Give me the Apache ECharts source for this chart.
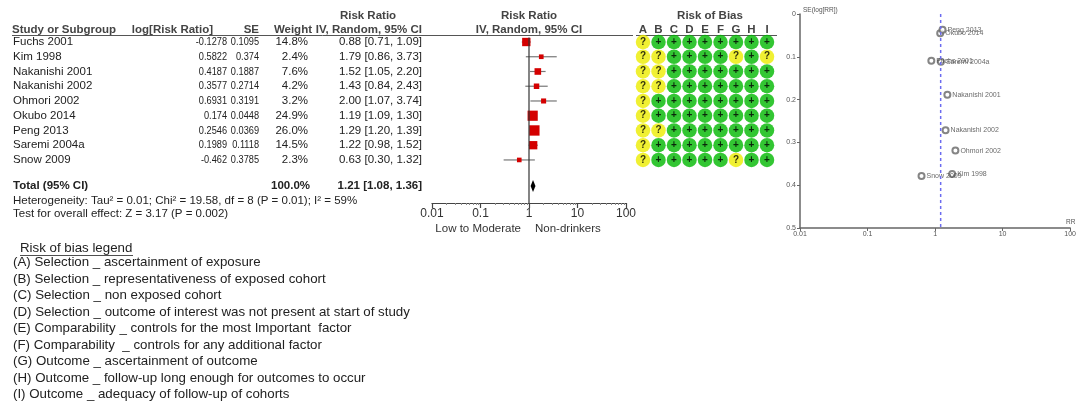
<!DOCTYPE html>
<html><head><meta charset="utf-8">
<script src="https://cdn.jsdelivr.net/npm/echarts@6/dist/echarts.min.js"></script>
<style>html,body{margin:0;padding:0;background:#fff}#c{width:1079px;height:403px}</style>
</head><body><div id="c"></div>
<script>
// ---------- DATA ----------
const studies = ["Fuchs 2001","Kim 1998","Nakanishi 2001","Nakanishi 2002","Ohmori 2002","Okubo 2014","Peng 2013","Saremi 2004a","Snow 2009"];
const logRR = [-0.1278, 0.5822, 0.4187, 0.3577, 0.6931, 0.174, 0.2546, 0.1989, -0.462];
const se = [0.1095, 0.374, 0.1887, 0.2714, 0.3191, 0.0448, 0.0369, 0.1118, 0.3785];
const weight = [14.8, 2.4, 7.6, 4.2, 3.2, 24.9, 26.0, 14.5, 2.3];
const rr = [0.88, 1.79, 1.52, 1.43, 2.00, 1.19, 1.29, 1.22, 0.63];
const ciLow = [0.71, 0.86, 1.05, 0.84, 1.07, 1.09, 1.20, 0.98, 0.30];
const ciHigh = [1.09, 3.73, 2.20, 2.43, 3.74, 1.30, 1.39, 1.52, 1.32];
const totalRR = 1.21, totalLow = 1.08, totalHigh = 1.36, totalWeight = 100.0;
const heterogeneityText = "Heterogeneity: Tau\u00b2 = 0.01; Chi\u00b2 = 19.58, df = 8 (P = 0.01); I\u00b2 = 59%";
const overallText = "Test for overall effect: Z = 3.17 (P = 0.002)";
const biasDomains = ["A","B","C","D","E","F","G","H","I"];
const biasRows = ["?++++++++","??++++?+?","??+++++++","??+++++++","?++++++++","?++++++++","??+++++++","?++++++++","?+++++?++"];
const forestTicks = [0.01, 0.1, 1, 10, 100];
const favourLeft = "Low to Moderate", favourRight = "Non-drinkers";
const funnelXTicks = [0.01, 0.1, 1, 10, 100];
const funnelYTicks = [0, 0.1, 0.2, 0.3, 0.4, 0.5];
const legendTitle = "Risk of bias legend";
const legendLines = [
  "(A) Selection _ ascertainment of exposure",
  "(B) Selection _ representativeness of exposed cohort",
  "(C) Selection _ non exposed cohort",
  "(D) Selection _ outcome of interest was not present at start of study",
  "(E) Comparability _ controls for the most Important  factor",
  "(F) Comparability  _ controls for any additional factor",
  "(G) Outcome _ ascertainment of outcome",
  "(H) Outcome _ follow-up long enough for outcomes to occur",
  "(I) Outcome _ adequacy of follow-up of cohorts"
];

// ---------- LAYOUT ----------
const FONT = '"Liberation Sans", Arial, sans-serif';
const TOTAL_ROW = 9.76;
const Y_MIN = -0.95, Y_MAX = 10.92, GRID_TOP = 28, GRID_H = 175;
function rowY(r){ return GRID_TOP + (r - Y_MIN) / (Y_MAX - Y_MIN) * GRID_H; }
const TXT = '#222';

const graphics = [];
function txt(x, y, s, opt){
  opt = opt || {};
  graphics.push({type:'text', x:x, y:y, scaleX:opt.sx||1, silent:true, style:{
    text:s, fill:opt.fill||TXT, font:(opt.bold?'bold ':'')+(opt.size||11.5)+'px '+FONT,
    textAlign:opt.align||'left', textVerticalAlign:'middle'}});
}
function hline(x1, x2, y, color, w){
  graphics.push({type:'line', silent:true, shape:{x1:x1,y1:y,x2:x2,y2:y}, style:{stroke:color||'#444', lineWidth:w||1}});
}
// Table header
const HC = '#444';
txt(368, 16, 'Risk Ratio', {bold:true, fill:HC, align:'center'});
txt(12, 30, 'Study or Subgroup', {bold:true, fill:HC});
txt(213, 30, 'log[Risk Ratio]', {bold:true, fill:HC, align:'right'});
txt(259, 30, 'SE', {bold:true, fill:HC, align:'right'});
txt(312, 30, 'Weight', {bold:true, fill:HC, align:'right'});
txt(422, 30, 'IV, Random, 95% CI', {bold:true, fill:HC, align:'right'});
txt(529, 16, 'Risk Ratio', {bold:true, fill:HC, align:'center'});
txt(529, 30, 'IV, Random, 95% CI', {bold:true, fill:HC, align:'center'});
txt(710, 16, 'Risk of Bias', {bold:true, fill:HC, align:'center'});
hline(12, 633, 35.5, '#555', 1);
hline(636, 777, 35.5, '#555', 1);
// Table rows
studies.forEach(function(s, i){
  const y = rowY(i);
  txt(13, y, s);
  txt(227, y, String(logRR[i]), {align:'right', sx:0.8});
  txt(259, y, String(se[i]), {align:'right', sx:0.8});
  txt(308, y, weight[i].toFixed(1) + '%', {align:'right'});
  txt(422, y, rr[i].toFixed(2) + ' [' + ciLow[i].toFixed(2) + ', ' + ciHigh[i].toFixed(2) + ']', {align:'right'});
});
const ty = rowY(TOTAL_ROW);
txt(13, ty, 'Total (95% CI)', {bold:true});
txt(310, ty, totalWeight.toFixed(1) + '%', {bold:true, align:'right'});
txt(422, ty, totalRR.toFixed(2) + ' [' + totalLow.toFixed(2) + ', ' + totalHigh.toFixed(2) + ']', {bold:true, align:'right'});
txt(13, ty + 14.5, heterogeneityText);
txt(13, ty + 28, overallText);
txt(521, 229, favourLeft, {align:'right', fill:'#333'});
txt(535, 229, favourRight, {fill:'#333'});
// RoB domain letters
biasDomains.forEach(function(d, j){
  txt(643 + j * 15.5, 30, d, {bold:true, fill:HC, align:'center'});
});
// Legend
txt(20, 248.5, legendTitle, {size:13.3});
hline(20, 133, 255.5, '#222', 0.8);
legendLines.forEach(function(s, i){ txt(13, 262.5 + i * 16.5, s, {size:13.3}); });
// Funnel axis names
txt(803, 10, 'SE(log[RR])', {size:6.5, fill:'#555'});
txt(1066, 222, 'RR', {size:6.5, fill:'#555'});

// ---------- SERIES DATA ----------
const ciData = studies.map(function(s, i){ return [ciLow[i], ciHigh[i], i]; });
const pointData = studies.map(function(s, i){ return {value:[rr[i], i], symbolSize: 2.2 + Math.sqrt(weight[i]) * 1.6}; });
const biasData = [];
biasRows.forEach(function(row, i){
  row.split('').forEach(function(c, j){ biasData.push({value:[j, i], mark:c}); });
});
const funnelData = studies.map(function(s, i){ return {value:[rr[i], se[i]], name:s}; });

const chart = echarts.init(document.getElementById('c'), null, {renderer:'canvas'});
chart.setOption({
  animation:false,
  textStyle:{fontFamily:FONT},
  grid:[
    {left:432, width:194, top:GRID_TOP, height:GRID_H},
    {left:635.25, width:139.5, top:GRID_TOP, height:GRID_H},
    {left:800, width:277, top:14, height:214}
  ],
  xAxis:[
    {gridIndex:0, type:'log', logBase:10, min:0.01, max:100, position:'bottom',
     axisLine:{onZero:false, lineStyle:{color:'#444', width:1.2}},
     axisTick:{show:true, length:5, lineStyle:{color:'#444', width:1.2}},
     minorTick:{show:true, splitNumber:9, length:2, lineStyle:{color:'#888'}},
     axisLabel:{fontSize:12, color:'#333', margin:5, fontFamily:FONT,
       formatter:function(v){ return String(+v.toPrecision(6)); }},
     splitLine:{show:false}},
    {gridIndex:1, type:'value', min:-0.5, max:8.5, show:false},
    {gridIndex:2, type:'log', logBase:10, min:0.01, max:100, position:'bottom',
     axisLine:{onZero:false, lineStyle:{color:'#666', width:1.5}},
     axisTick:{show:true, length:3, lineStyle:{color:'#666'}},
     axisLabel:{fontSize:7, color:'#555', margin:3,
       formatter:function(v){ return String(+v.toPrecision(6)); }},
     splitLine:{show:false}}
  ],
  yAxis:[
    {gridIndex:0, type:'value', inverse:true, min:Y_MIN, max:Y_MAX, show:false},
    {gridIndex:1, type:'value', inverse:true, min:Y_MIN, max:Y_MAX, show:false},
    {gridIndex:2, type:'value', inverse:true, min:0, max:0.5, interval:0.1, position:'left',
     axisLine:{show:true, onZero:false, lineStyle:{color:'#666', width:1.5}},
     axisTick:{show:true, length:3, lineStyle:{color:'#666'}},
     axisLabel:{fontSize:7, color:'#555', margin:4},
     splitLine:{show:false}}
  ],
  graphic:graphics,
  series:[
    {type:'line', xAxisIndex:0, yAxisIndex:0, data:[[1, -0.3],[1, Y_MAX]], symbol:'none',
     lineStyle:{color:'#333', width:1.2}, silent:true},
    {type:'custom', xAxisIndex:0, yAxisIndex:0, data:ciData, encode:{x:[0,1], y:2},
     renderItem:function(params, api){
       const a = api.coord([api.value(0), api.value(2)]);
       const b = api.coord([api.value(1), api.value(2)]);
       return {type:'line', shape:{x1:a[0], y1:a[1], x2:b[0], y2:b[1]}, style:{stroke:'#777', lineWidth:1.2}};
     }},
    {type:'scatter', xAxisIndex:0, yAxisIndex:0, symbol:'rect', data:pointData,
     itemStyle:{color:'#d40000', opacity:1}, silent:true},
    {type:'custom', xAxisIndex:0, yAxisIndex:0, data:[[totalLow, totalRR, totalHigh, TOTAL_ROW]],
     encode:{x:[0,1,2], y:3},
     renderItem:function(params, api){
       const y = api.value(3);
       const l = api.coord([api.value(0), y]), m = api.coord([api.value(1), y]), r = api.coord([api.value(2), y]);
       return {type:'polygon', shape:{points:[[l[0], l[1]], [m[0], m[1]-6], [r[0], r[1]], [m[0], m[1]+6]]}, style:{fill:'#000'}};
     }},
    {type:'scatter', xAxisIndex:1, yAxisIndex:1, symbol:'circle', symbolSize:14.5, data:biasData.map(function(d){
       const q = d.mark === '?';
       return {value:d.value, itemStyle:{color: q ? '#ecec00' : '#00b800'},
         label:{show:true, formatter:d.mark, color:'#000', fontWeight:'bold', fontSize:10, fontFamily:FONT}};
     }), silent:true},
    {type:'line', xAxisIndex:2, yAxisIndex:2, data:[[totalRR, 0],[totalRR, 0.5]], symbol:'none',
     lineStyle:{color:'#6c6cf0', width:1.5, type:[3,3]}, silent:true},
    {type:'scatter', xAxisIndex:2, yAxisIndex:2, symbol:'emptyCircle', symbolSize:6, data:funnelData,
     itemStyle:{color:'#666', borderColor:'#666', borderWidth:1},
     label:{show:true, position:'right', distance:1, formatter:'{b}', fontSize:7, color:'#444'}, silent:true}
  ]
});
</script>
</body></html>
